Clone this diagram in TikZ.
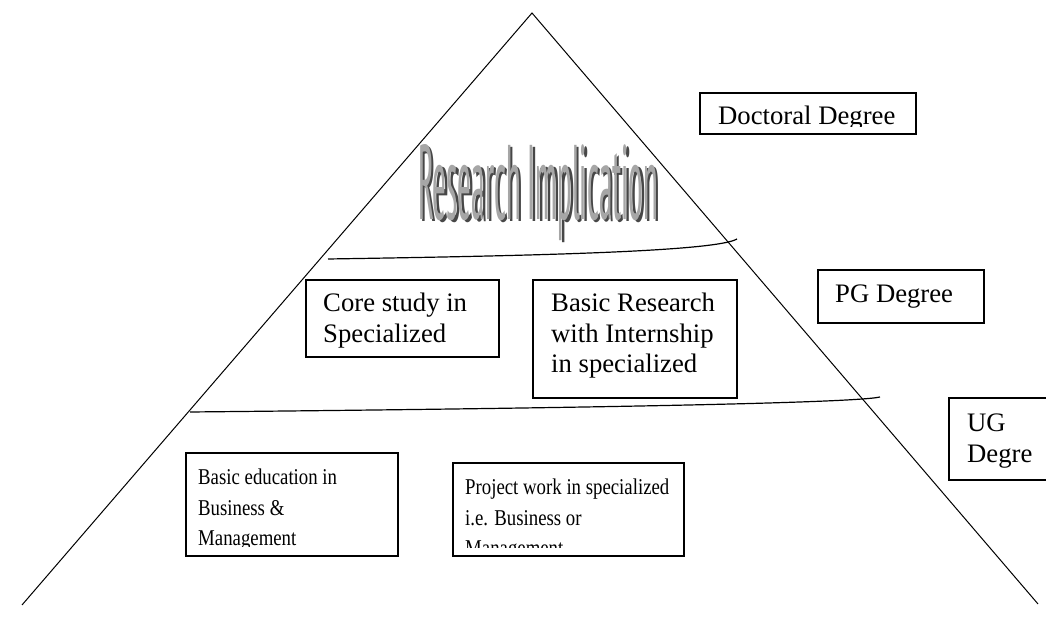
\documentclass[tikz,border=0pt]{standalone}
\usepackage{fontspec}
\setmainfont{Liberation Serif}
\newfontfamily\wordfont{PT Sans Narrow}

\begin{document}
\begin{tikzpicture}[x=1pt, y=1pt,
    box/.style={draw, line width=1.3pt, inner sep=0pt, outer sep=0pt, anchor=south west},
    bigtxt/.style={font=\fontsize{26.7}{30.5}\selectfont, anchor=base west, inner sep=0pt},
    smalltxt/.style={font=\fontsize{18.8}{25.4}\selectfont, anchor=base west, inner sep=0pt}]
    \clip (0, 0) rectangle (1046, 620);

    % pyramid
    \coordinate (apex) at (532, 607);
    \coordinate (baseL) at (22, 15);
    \coordinate (baseR) at (1038, 16);
    \draw[line width=1pt] (baseL) -- (apex) -- (baseR);

    % level dividers
    \coordinate (divA) at (328, 361);
    \coordinate (divB) at (737, 381);
    \draw[line width=1.2pt] (divA) .. controls (520, 364) and (715, 368) .. (divB);
    \coordinate (divC) at (190, 208);
    \coordinate (divD) at (880, 223);
    \draw[line width=1.2pt] (divC) .. controls (500, 211) and (850, 216) .. (divD);

    % word art
    \node[inner sep=0pt, anchor=base, text=black!72] (riShadow) at (540.5, 398.5)
        {\resizebox{240pt}{75pt}{\wordfont Research Implication}};
    \node[inner sep=0pt, anchor=base, text=black!35] (ri) at (538, 400)
        {\resizebox{240pt}{75pt}{\wordfont Research Implication}};

    % degree labels
    \node[box, minimum width=216pt, minimum height=41pt] (doc) at (700, 486) {};
    \begin{scope}
      \clip ([yshift=7pt]doc.south west) rectangle (doc.north east);
      \node[bigtxt] (docTxt) at (718, 495) {Doctoral Degree};
    \end{scope}
    \node[box, minimum width=166pt, minimum height=53pt] (pg) at (818, 297) {};
    \node[bigtxt] (pgTxt) at (835, 317) {PG Degree};
    \node[box, minimum width=120pt, minimum height=82pt] (ug) at (949, 140) {};
    \node[bigtxt] (ugTxt) at (967, 188) {\begin{tabular}[t]{@{}l@{}}UG\\Degre\end{tabular}};

    % PG level
    \node[box, minimum width=193pt, minimum height=77pt] (core) at (306, 263) {};
    \node[bigtxt] (coreTxt) at (323, 308) {\begin{tabular}[t]{@{}l@{}}Core study in\\Specialized\end{tabular}};
    \node[box, minimum width=204pt, minimum height=118pt] (basicRes) at (533, 222) {};
    \node[bigtxt] (basicResTxt) at (551, 308) {\begin{tabular}[t]{@{}l@{}}Basic Research\\with Internship\\in specialized\end{tabular}};

    % UG level
    \node[box, minimum width=212pt, minimum height=103pt] (edu) at (186, 64) {};
    \begin{scope}
      \clip ([yshift=9pt]edu.south west) rectangle (edu.north east);
      \node[smalltxt] (eduTxt) at (198, 135) {\scalebox{1}[1.2]{\begin{tabular}[t]{@{}l@{}}Basic education in\\Business \&\\Management\end{tabular}}};
    \end{scope}
    \node[box, minimum width=231pt, minimum height=93pt] (proj) at (453, 64) {};
    \begin{scope}
      \clip ([yshift=8pt]proj.south west) rectangle (proj.north east);
      \node[smalltxt] (projTxt) at (465, 125) {\scalebox{1}[1.2]{\begin{tabular}[t]{@{}l@{}}Project work in specialized\\i.e. Business or\\Management\end{tabular}}};
    \end{scope}
  \end{tikzpicture}
\end{document}
